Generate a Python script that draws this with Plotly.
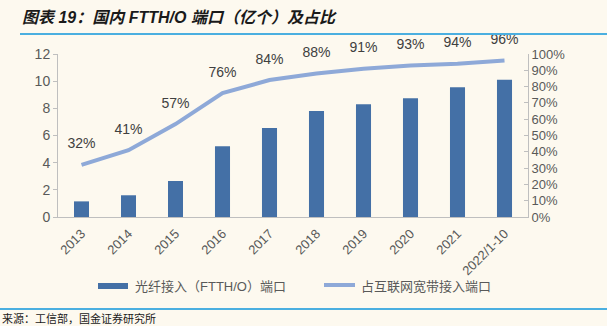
import plotly.graph_objects as go

categories = ["2013", "2014", "2015", "2016", "2017", "2018", "2019", "2020", "2021", "2022/1-10"]
ftth_ports = [1.15, 1.6, 2.65, 5.2, 6.55, 7.8, 8.3, 8.75, 9.55, 10.1]
share_pct = [32, 41, 57, 76, 84, 88, 91, 93, 94, 96]
share_labels = [f"{v}%" for v in share_pct]
legend_names = ["光纤接入（FTTH/O）端口", "占互联网宽带接入端口"]

FONT = "Liberation Sans, Noto Sans CJK SC, sans-serif"
BG = "#FDF9EF"
BAR_C = "#4470A6"
LINE_C = "#8EA9D8"

fig = go.Figure()
fig.add_trace(go.Bar(
    x=categories, y=ftth_ports, name=legend_names[0],
    marker=dict(color=BAR_C, line=dict(width=0)), width=0.32, yaxis="y",
))
fig.add_trace(go.Scatter(
    x=categories, y=share_pct, name=legend_names[1], yaxis="y2",
    mode="lines+markers+text", text=share_labels, textposition="top center", cliponaxis=False,
    marker=dict(size=19, color="rgba(0,0,0,0)", line=dict(width=0)),
    textfont=dict(size=14, color="#404040", family=FONT),
    line=dict(color=LINE_C, width=4),
))

PW, PH, L, T = 470, 163, 58, 54


def px(x):
    return (x - L) / PW


def py(y):
    return (T + PH - y) / PH


fig.update_layout(
    width=607, height=326,
    margin=dict(l=L, r=607 - L - PW, t=T, b=326 - T - PH),
    paper_bgcolor=BG, plot_bgcolor=BG,
    font=dict(family=FONT, color="#595959"),
    showlegend=False,
    xaxis=dict(type="category", range=[-0.5, len(categories) - 0.5], autorange=False,
               tickangle=-45, tickfont=dict(size=13, color="#595959"),
               showline=True, linecolor="#BFBFBF", linewidth=1, showgrid=False,
               ticks="outside", ticklen=3, tickcolor="rgba(0,0,0,0)", zeroline=False),
    yaxis=dict(range=[0, 12], dtick=2, showgrid=False, showline=True, linecolor="#BFBFBF",
               ticks="outside", ticklen=4, tickcolor="#BFBFBF",
               tickfont=dict(size=14, color="#595959"), zeroline=False),
    yaxis2=dict(range=[0, 100], dtick=10, overlaying="y", side="right", showgrid=False,
                showline=True, linecolor="#BFBFBF", ticks="inside", ticklen=4, tickcolor="#BFBFBF",
                ticksuffix="%", tickfont=dict(size=13, color="#595959"), zeroline=False),
)

# custom legend
fig.add_shape(type="rect", xref="paper", yref="paper", x0=px(98), x1=px(128), y0=py(289), y1=py(283),
              fillcolor=BAR_C, line=dict(width=0))
fig.add_annotation(xref="paper", yref="paper", x=px(133), y=py(286), xanchor="left", yanchor="middle",
                   text=legend_names[0], showarrow=False, font=dict(size=13, color="#595959"))
fig.add_shape(type="line", xref="paper", yref="paper", x0=px(324), x1=px(355), y0=py(285), y1=py(285),
              line=dict(color=LINE_C, width=4))
fig.add_annotation(xref="paper", yref="paper", x=px(359), y=py(286), xanchor="left", yanchor="middle",
                   text=legend_names[1], showarrow=False, font=dict(size=13, color="#595959"))

# title and footer
fig.add_annotation(xref="paper", yref="paper", x=px(20), y=py(18), xanchor="left", yanchor="middle",
                   text="<b><i>图表 19：国内 FTTH/O 端口（亿个）及占比</i></b>", showarrow=False,
                   font=dict(size=16, color="#1a1a1a", family="Liberation Sans, Noto Sans CJK SC"))
fig.add_annotation(xref="paper", yref="paper", x=px(0), y=py(318), xanchor="left", yanchor="middle",
                   text="来源：工信部，国金证券研究所", showarrow=False,
                   font=dict(size=11, color="#1a1a1a", family="Noto Sans CJK SC"))
# rules
fig.add_shape(type="line", xref="paper", yref="paper", x0=px(20), x1=px(607),
              y0=py(34), y1=py(34), line=dict(color="#4BAFE0", width=2))
fig.add_shape(type="line", xref="paper", yref="paper", x0=px(0), x1=px(607),
              y0=py(309), y1=py(309), line=dict(color="#4BAFE0", width=2))

fig.write_html("out.html")
